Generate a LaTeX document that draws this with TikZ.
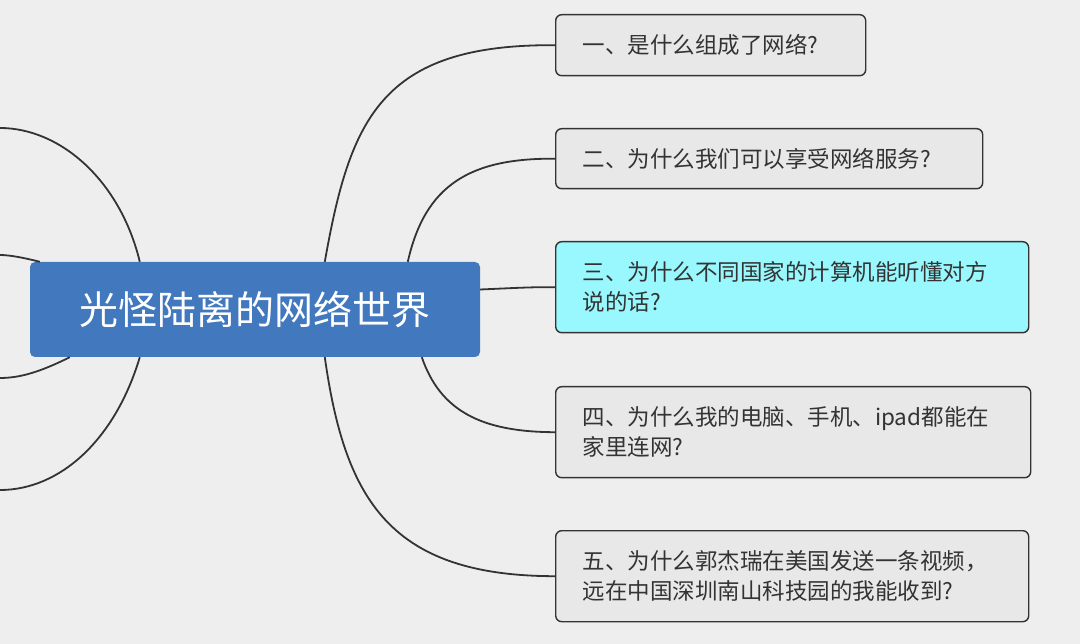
\documentclass[tikz,border=0pt]{standalone}
\usepackage{fontspec}
\newfontfamily\cjk{Noto Sans CJK SC}
\definecolor{bgcol}{HTML}{EEEEEE}
\definecolor{rootcol}{HTML}{4178BE}
\definecolor{topiccol}{HTML}{E8E8E8}
\definecolor{hotcol}{HTML}{98F8FD}
\definecolor{linecol}{HTML}{333333}
\begin{document}
\begin{tikzpicture}[x=1pt,y=-1pt,
    rootbox/.style={fill=rootcol,rounded corners=5pt,text=white,font=\cjk\fontsize{39}{44}\selectfont},
    topic/.style={draw=linecol,line width=1.4pt,fill=topiccol,rounded corners=6pt,anchor=north west,
        align=left,inner xsep=27pt,font=\cjk\fontsize{22.5}{30}\selectfont,text=linecol},
    branch/.style={draw=linecol,line width=1.8pt}]
    \fill [bgcol] (0,0) rectangle (1080,644);
    \useasboundingbox (0,0) rectangle (1080,644);

    % Root
    \node [rootbox,minimum width=450pt,minimum height=95pt] (root) at (255,309.5) {光怪陆离的网络世界};

    % Topics
    \node [topic,minimum width=310pt,minimum height=61pt,text width=256pt] (t1) at (555,14) {一、是什么组成了网络?};
    \node [topic,minimum width=427pt,minimum height=60pt,text width=373pt] (t2) at (555,128) {二、为什么我们可以享受网络服务?};
    \node [topic,fill=hotcol,minimum width=473pt,minimum height=91pt,text width=419pt] (t3) at (555,241) {三、为什么不同国家的计算机能听懂对方\\说的话?};
    \node [topic,minimum width=475pt,minimum height=91pt,text width=421pt] (t4) at (555,386) {四、为什么我的电脑、手机、ipad都能在\\家里连网?};
    \node [topic,minimum width=473pt,minimum height=91pt,text width=419pt] (t5) at (555,530) {五、为什么郭杰瑞在美国发送一条视频，\\远在中国深圳南山科技园的我能收到?};

    % Right branches
    \draw [branch] (root.north west) ++(295,0) .. controls (350,120) and (380,44) .. (t1.west);
    \draw [branch] (root.north west) ++(378,0) .. controls (425,185) and (470,158) .. (t2.west);
    \draw [branch] (root.east) ++(0,-20) .. controls (515,288) and (530,287) .. (t3.west);
    \draw [branch] (root.south west) ++(392,0) .. controls (440,410) and (480,432) .. (t4.west);
    \draw [branch] (root.south west) ++(295,0) .. controls (345,500) and (390,576) .. (t5.west);

    % Left branches (cut off)
    \coordinate (l1) at (0,128);
    \coordinate (l2) at (0,255);
    \coordinate (l3) at (0,378);
    \coordinate (l4) at (0,490);
    \draw [branch] (root.north west) ++(110,0) .. controls (120,180) and (60,128) .. (l1);
    \draw [branch] (root.north west) ++(10,0) .. controls (25,258) and (10,255) .. (l2);
    \draw [branch] (root.south west) ++(40,0) .. controls (40,372) and (20,378) .. (l3);
    \draw [branch] (root.south west) ++(110,0) .. controls (115,440) and (60,490) .. (l4);
\end{tikzpicture}
\end{document}
